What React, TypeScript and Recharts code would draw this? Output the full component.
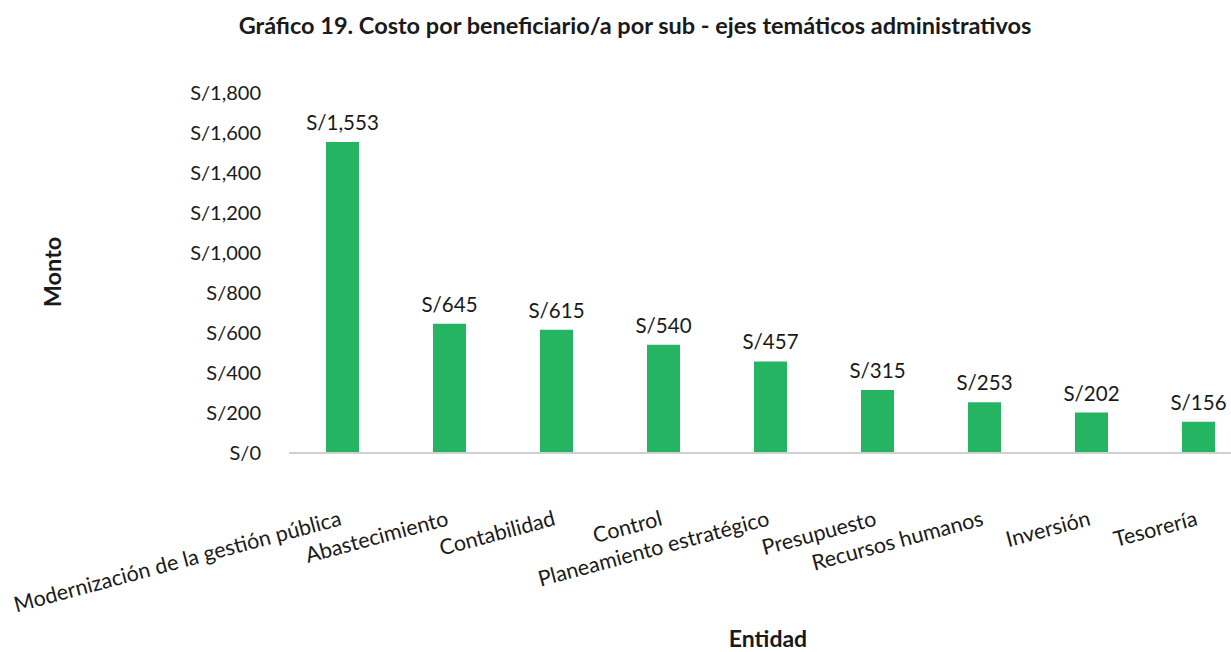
import { BarChart, Bar, XAxis, YAxis, LabelList } from 'recharts';

const categories = [
  'Modernización de la gestión pública',
  'Abastecimiento',
  'Contabilidad',
  'Control',
  'Planeamiento estratégico',
  'Presupuesto',
  'Recursos humanos',
  'Inversión',
  'Tesorería',
];
const costs = [1553, 645, 615, 540, 457, 315, 253, 202, 156];
const yTicks = [0, 200, 400, 600, 800, 1000, 1200, 1400, 1600, 1800];

const FONT = 'Lato, "Open Sans", sans-serif';
const GREEN = '#25b562';

const money = (v: number) => `S/${Number(v).toLocaleString('en-US')}`;

const data = categories.map((name, i) => ({ name, cost: costs[i] }));

// rotated category label, right end sits on the tick
function CategoryTick(props: any) {
  const { x, y, payload } = props;
  const ty = y + 72;
  return (
    <text
      x={x}
      y={ty}
      transform={`rotate(-15, ${x}, ${ty})`}
      textAnchor="end"
      fontFamily={FONT}
      fontSize={21.5}
      fill="#1a1a1a"
    >
      {payload.value}
    </text>
  );
}

export default function App() {
  return (
    <div
      style={{
        position: 'absolute',
        left: 0,
        top: 0,
        width: 1231,
        height: 652,
        overflow: 'hidden',
        background: '#fff',
        fontFamily: FONT,
      }}
    >
      <div
        style={{
          position: 'absolute',
          left: 635,
          top: 25,
          transform: 'translate(-50%, -50%)',
          whiteSpace: 'nowrap',
          fontWeight: 700,
          fontSize: 23.5,
          color: '#1a1a1a',
        }}
      >
        Gráfico 19. Costo por beneficiario/a por sub - ejes temáticos administrativos
      </div>
      <div
        style={{
          position: 'absolute',
          left: 52,
          top: 272,
          transform: 'translate(-50%, -50%) rotate(-90deg)',
          fontWeight: 700,
          fontSize: 23.5,
          color: '#1a1a1a',
          whiteSpace: 'nowrap',
        }}
      >
        Monto
      </div>
      <div
        style={{
          position: 'absolute',
          left: 768,
          top: 626,
          transform: 'translateX(-50%)',
          fontWeight: 700,
          fontSize: 23,
          lineHeight: '24px',
          color: '#1a1a1a',
        }}
      >
        Entidad
      </div>
      <BarChart
        width={1260}
        height={652}
        data={data}
        margin={{ top: 92.5, right: 8, bottom: 0, left: 0 }}
        style={{ position: 'absolute', left: 0, top: 0 }}
      >
        <XAxis
          dataKey="name"
          interval={0}
          height={199}
          tickLine={false}
          tickSize={0}
          tickMargin={0}
          axisLine={{ stroke: '#d0d0d0', strokeWidth: 2 }}
          tick={<CategoryTick />}
        />
        <YAxis
          width={289}
          domain={[0, 1800]}
          ticks={yTicks}
          axisLine={false}
          tickLine={false}
          tickSize={0}
          tickMargin={28}
          tickFormatter={money}
          tick={{ fontFamily: FONT, fontSize: 20, fill: '#1a1a1a' }}
        />
        <Bar dataKey="cost" fill={GREEN} barSize={33} isAnimationActive={false}>
          <LabelList
            dataKey="cost"
            position="top"
            offset={12}
            formatter={money}
            style={{ fontFamily: FONT, fontSize: 20.5, fill: '#1a1a1a' }}
          />
        </Bar>
      </BarChart>
    </div>
  );
}
